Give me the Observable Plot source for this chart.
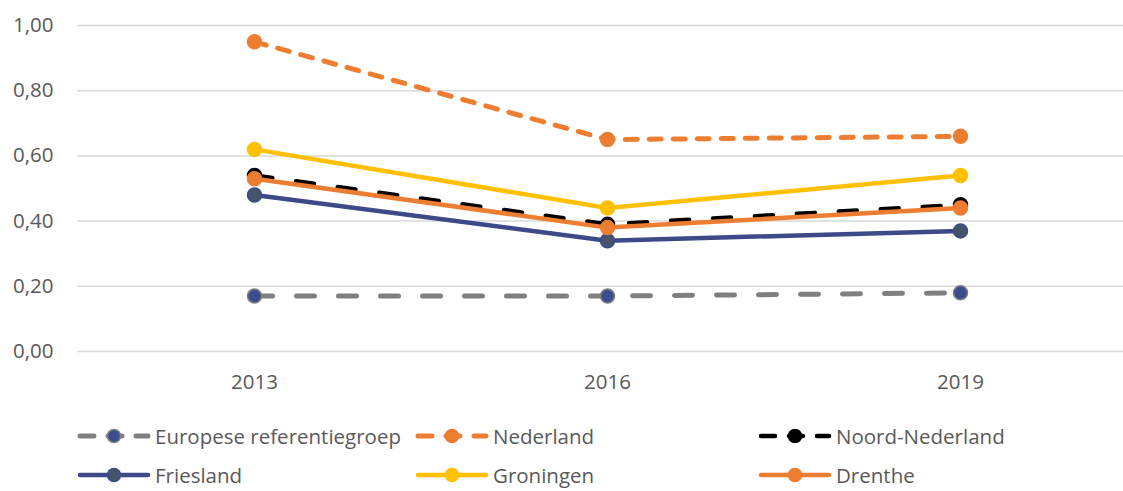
<!DOCTYPE html>
<html>
<head>
<meta charset="utf-8">
<script src="https://cdn.jsdelivr.net/npm/d3@7"></script>
<script src="https://cdn.jsdelivr.net/npm/@observablehq/plot@0.6"></script>
<style>
  html, body { margin: 0; padding: 0; background: #fff; }
  #wrap { position: relative; width: 1123px; height: 491px; overflow: hidden; font-family: "Open Sans", sans-serif; }
  #legend { position: absolute; left: 0; top: 0; width: 1123px; height: 491px; pointer-events: none; }
  .item { position: absolute; display: flex; align-items: center; height: 28px; color: #595959; font-size: 20.5px; white-space: nowrap; }
  .item svg { display: block; margin-right: 4px; }
</style>
</head>
<body>
<div id="wrap"><div id="chart"></div><div id="legend"></div></div>
<script>
const years = [2013, 2016, 2019];
const seriesNames = ["Europese referentiegroep", "Nederland", "Noord-Nederland", "Friesland", "Groningen", "Drenthe"];
const europese = [0.17, 0.17, 0.18];
const nederland = [0.95, 0.65, 0.66];
const noordNederland = [0.54, 0.39, 0.45];
const friesland = [0.48, 0.34, 0.37];
const groningen = [0.62, 0.44, 0.54];
const drenthe = [0.53, 0.38, 0.44];
const yTicks = [0, 0.2, 0.4, 0.6, 0.8, 1.0];

const values = [europese, nederland, noordNederland, friesland, groningen, drenthe];
const styles = {
  "Europese referentiegroep": {stroke: "#7f7f7f", dash: "18,24", width: 5, fill: "#3c4d8f", dotStroke: "#7f7f7f"},
  "Nederland": {stroke: "#ed7d31", dash: "12,12", width: 5, fill: "#ed7d31", dotStroke: "#ed7d31"},
  "Noord-Nederland": {stroke: "#000000", dash: "18,24", width: 4.5, fill: "#000000", dotStroke: "#000000"},
  "Friesland": {stroke: "#3c4a88", dash: null, width: 4.5, fill: "#44546a", dotStroke: "#3c4a88"},
  "Groningen": {stroke: "#ffc000", dash: null, width: 4.5, fill: "#ffc000", dotStroke: "#ffc000"},
  "Drenthe": {stroke: "#ed7d31", dash: null, width: 4.5, fill: "#ed7d31", dotStroke: "#ed7d31"}
};

const data = [];
seriesNames.forEach((name, i) => years.forEach((yr, j) => data.push({series: name, year: yr, value: values[i][j]})));

const fmt = d => d.toFixed(2).replace(".", ",");

const marks = [
  Plot.ruleY(yTicks, {stroke: "#d9d9d9", strokeWidth: 1.5}),
  Plot.axisY({ticks: yTicks, tickFormat: fmt, tickSize: 0, tickPadding: 24, fontSize: 20.5, fill: "#595959", label: null}),
  Plot.axisX({tickSize: 0, tickPadding: 23, fontSize: 20.5, fill: "#595959", label: null, tickFormat: d => String(d)})
];
seriesNames.forEach(name => {
  const s = styles[name];
  const rows = data.filter(d => d.series === name);
  marks.push(Plot.line(rows, {x: "year", y: "value", stroke: s.stroke, strokeWidth: s.width, strokeDasharray: s.dash || undefined, strokeLinecap: "round", strokeLinejoin: "round"}));
  marks.push(Plot.dot(rows, {x: "year", y: "value", r: 7, fill: s.fill, stroke: s.dotStroke, strokeWidth: 1.5}));
});

const chart = Plot.plot({
  width: 1123, height: 400,
  marginLeft: 77, marginRight: 0, marginTop: 25, marginBottom: 49,
  x: {type: "point", domain: years, range: [77, 1137], padding: 0.5},
  y: {domain: [0, 1]},
  style: {fontFamily: "'Open Sans', sans-serif", background: "#fff", overflow: "visible"},
  marks
});
document.getElementById("chart").appendChild(chart);

// Legend
const legendPos = [[77, 436], [415, 436], [758, 436], [77, 475], [415, 475], [758, 475]];
const legend = d3.select("#legend");
seriesNames.forEach((name, i) => {
  const s = styles[name];
  const item = legend.append("div").attr("class", "item")
    .style("left", legendPos[i][0] + "px").style("top", (legendPos[i][1] - 14) + "px");
  const svg = item.append("svg").attr("width", 74).attr("height", 20);
  svg.append("line").attr("x1", 3).attr("x2", 71).attr("y1", 10).attr("y2", 10)
    .attr("stroke", s.stroke).attr("stroke-width", s.width).attr("stroke-linecap", "round")
    .attr("stroke-dasharray", s.dash ? "14,14" : null);
  svg.append("circle").attr("cx", 37).attr("cy", 10).attr("r", 6.5)
    .attr("fill", s.fill).attr("stroke", s.dotStroke).attr("stroke-width", 1.5);
  item.append("span").text(name);
});
</script>
</body>
</html>
